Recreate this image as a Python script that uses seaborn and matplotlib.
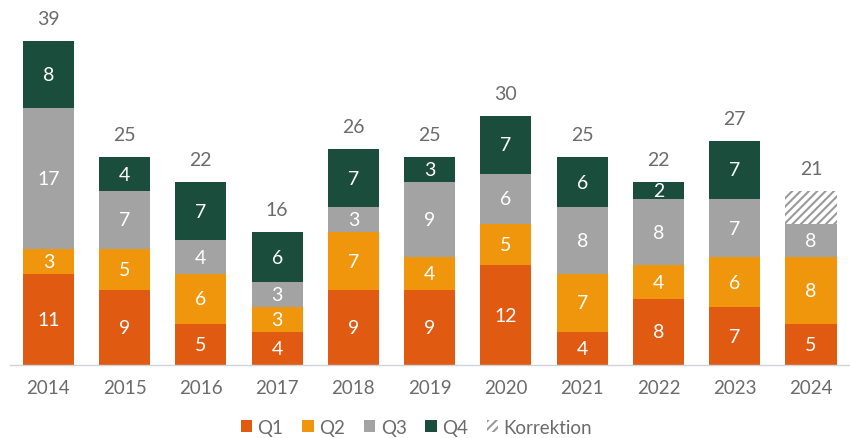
import numpy as np
import pandas as pd
import matplotlib
matplotlib.use("Agg")
import matplotlib.pyplot as plt
from matplotlib.patches import Patch
import seaborn as sns

years = ["2014", "2015", "2016", "2017", "2018", "2019", "2020", "2021", "2022", "2023", "2024"]
q1 = [11, 9, 5, 4, 9, 9, 12, 4, 8, 7, 5]
q2 = [3, 5, 6, 3, 7, 4, 5, 7, 4, 6, 8]
q3 = [17, 7, 4, 3, 3, 9, 6, 8, 8, 7, 4]
q4 = [8, 4, 7, 6, 7, 3, 7, 6, 2, 7, 0]
korrektion = [0, 0, 0, 0, 0, 0, 0, 0, 0, 0, 4]

colors = {"Q1": "#E05A12", "Q2": "#F0960C", "Q3": "#A3A3A3", "Q4": "#1B4D3D"}
text_gray = "#6B6B6B"
hatch_gray = "#9A9A9A"

sns.set_theme(style="white")
plt.rcParams["font.family"] = ["Lato", "DejaVu Sans"]
plt.rcParams["hatch.linewidth"] = 1.5

df = pd.DataFrame({"year": years, "Q1": q1, "Q2": q2, "Q3": q3, "Q4": q4, "K": korrektion})
df["c1"] = df["Q1"]
df["c2"] = df["c1"] + df["Q2"]
df["c3"] = df["c2"] + df["Q3"]
df["c4"] = df["c3"] + df["Q4"]
df["c5"] = df["c4"] + df["K"]

fig = plt.figure(figsize=(8.5, 4.39), dpi=100)
ax = fig.add_axes([0.012, 0.166, 0.987, 0.795])

bw = 0.67
# hatched layer (Korrektion) drawn first, quarters stacked over it
sns.barplot(data=df, x="year", y="c5", color="white", width=bw, hatch="////",
            edgecolor=hatch_gray, linewidth=0, saturation=1, ax=ax)
sns.barplot(data=df, x="year", y="c4", color=colors["Q4"], width=bw, saturation=1, linewidth=0, ax=ax)
sns.barplot(data=df, x="year", y="c3", color=colors["Q3"], width=bw, saturation=1, linewidth=0, ax=ax)
sns.barplot(data=df, x="year", y="c2", color=colors["Q2"], width=bw, saturation=1, linewidth=0, ax=ax)
sns.barplot(data=df, x="year", y="c1", color=colors["Q1"], width=bw, saturation=1, linewidth=0, ax=ax)

# segment labels
for i, row in df.iterrows():
    segs = [("Q1", 0, row["c1"]), ("Q2", row["c1"], row["c2"]),
            ("Q3", row["c2"], row["c3"]), ("Q4", row["c3"], row["c4"])]
    for name, lo, hi in segs:
        val = row[name]
        if name == "Q3":
            val = row["Q3"] + row["K"]
        if hi - lo > 0:
            ax.text(i, (lo + hi) / 2, f"{val}", ha="center", va="center",
                    color="white", fontsize=14)
    ax.annotate(f"{row['c5']}", (i, row["c5"]), xytext=(0, 10), textcoords="offset points",
                ha="center", va="bottom", color=text_gray, fontsize=14)

ax.set_xlim(-0.5, len(years) - 0.5)
ax.set_ylim(0, 42)
ax.set_xlabel("")
ax.set_ylabel("")
ax.set_yticks([])
for s in ["top", "right", "left"]:
    ax.spines[s].set_visible(False)
ax.spines["bottom"].set_color("#CCD3DA")
ax.spines["bottom"].set_linewidth(1)
ax.set_xticks(np.arange(-0.5, len(years), 1), minor=True)
ax.tick_params(axis="x", which="minor", length=6, color="#CCD3DA", width=1, direction="out")
ax.tick_params(axis="x", which="major", length=0, pad=10, labelsize=13.5, labelcolor=text_gray)

handles = [Patch(facecolor=colors[k], edgecolor="none", label=k) for k in ["Q1", "Q2", "Q3", "Q4"]]
handles.append(Patch(facecolor="white", edgecolor=hatch_gray, linewidth=0, hatch="////", label="Korrektion"))
leg = fig.legend(handles=handles, loc="center", bbox_to_anchor=(0.49, 0.025), ncol=5,
                 frameon=False, fontsize=13.5, handlelength=0.6, handleheight=0.6,
                 handletextpad=0.3, columnspacing=1.0)
for t in leg.get_texts():
    t.set_color(text_gray)

fig.savefig("out.png", dpi=100)
